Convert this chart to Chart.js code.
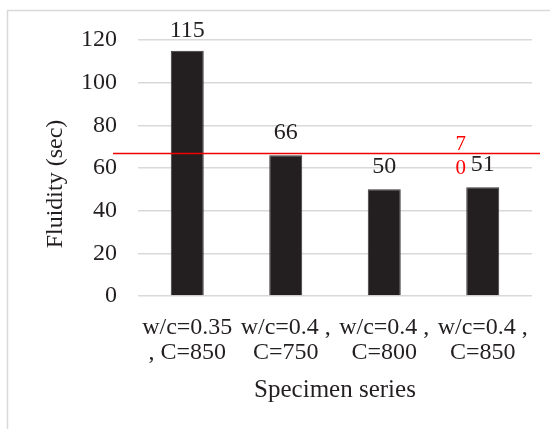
<!DOCTYPE html>
<html>
<head>
<meta charset="utf-8">
<script src="https://cdn.jsdelivr.net/npm/chart.js@4.4.0/dist/chart.umd.min.js"></script>
<style>
  html, body { margin: 0; padding: 0; background: #fff; }
  #wrap { width: 550px; height: 429px; position: relative; }
</style>
</head>
<body>
<div id="wrap"><canvas id="chart" width="550" height="429"></canvas></div>
<script>
// data
const categories = [
    ['w/c=0.35', ', C=850'],
    ['w/c=0.4 ,', 'C=750'],
    ['w/c=0.4 ,', 'C=800'],
    ['w/c=0.4 ,', 'C=850']
];
const fluidity = [115, 66, 50, 51];
const yTicks = [0, 20, 40, 60, 80, 100, 120];
const limitValue = 67;
const limitLabel = '70';

const serif = '"Liberation Serif", "Times New Roman", serif';
const textColor = '#231f20';

// frame, y title, value labels and the red limit line
const extras = {
    id: 'extras',
    beforeDraw(chart) {
        const ctx = chart.ctx;
        ctx.save();
        ctx.strokeStyle = '#d9d9d9';
        ctx.lineWidth = 1.5;
        ctx.beginPath();
        ctx.moveTo(7.5, 429);
        ctx.lineTo(7.5, 10.5);
        ctx.lineTo(550, 10.5);
        ctx.stroke();
        ctx.restore();
    },
    afterDraw(chart) {
        const ctx = chart.ctx;
        const area = chart.chartArea;
        const y = chart.scales.y;
        const bars = chart.getDatasetMeta(0).data;

        ctx.save();
        ctx.font = '24px ' + serif;
        ctx.fillStyle = textColor;

        // y axis title
        ctx.save();
        ctx.translate(56, 184);
        ctx.rotate(-Math.PI / 2);
        ctx.textAlign = 'center';
        ctx.textBaseline = 'middle';
        ctx.fillText('Fluidity (sec)', 0, 0);
        ctx.restore();

        // value labels
        ctx.textAlign = 'center';
        ctx.textBaseline = 'alphabetic';
        bars.forEach((bar, i) => {
            const ly = Math.max(bar.y - 16, area.top - 3);
            ctx.fillText(String(fluidity[i]), bar.x, ly);
        });

        // limit line
        const py = Math.round(y.getPixelForValue(limitValue)) + 0.5;
        ctx.strokeStyle = '#ee0000';
        ctx.lineWidth = 1.5;
        ctx.beginPath();
        ctx.moveTo(area.left - 25, py);
        ctx.lineTo(area.right + 8, py);
        ctx.stroke();

        // wrapped label of the limit line
        const lx = bars[3].x - 22;
        ctx.fillStyle = '#ff0000';
        ctx.font = '21px ' + serif;
        ctx.textBaseline = 'middle';
        ctx.fillText(limitLabel[0], lx, py - 9);
        ctx.fillText(limitLabel[1], lx, py + 15);
        ctx.restore();
    }
};

new Chart(document.getElementById('chart').getContext('2d'), {
    type: 'bar',
    data: {
        labels: categories,
        datasets: [{
            data: fluidity,
            backgroundColor: '#231f20',
            borderColor: '#3a3637',
            borderWidth: 1,
            barPercentage: 0.335,
            categoryPercentage: 1
        }]
    },
    options: {
        responsive: false,
        animation: false,
        layout: { padding: { left: 0, right: 18, top: 40, bottom: 0 } },
        plugins: {
            legend: { display: false },
            tooltip: { enabled: false }
        },
        scales: {
            x: {
                grid: { display: false, drawTicks: false },
                border: { display: false },
                ticks: {
                    color: textColor,
                    padding: 19,
                    maxRotation: 0,
                    autoSkip: false,
                    font: { family: serif, size: 24, lineHeight: '25px' }
                },
                title: {
                    display: true,
                    text: 'Specimen series',
                    color: textColor,
                    padding: { top: 0, bottom: 24 },
                    font: { family: serif, size: 25, lineHeight: 1.2 }
                },
                afterFit(scale) { scale.height = 133; }
            },
            y: {
                min: 0,
                max: 120,
                afterBuildTicks(scale) {
                    scale.ticks = yTicks.map(v => ({ value: v }));
                },
                grid: { color: '#d9d9d9', lineWidth: 1.5, drawTicks: false },
                border: { display: false },
                ticks: {
                    color: textColor,
                    padding: 21,
                    font: { family: serif, size: 24 }
                },
                afterFit(scale) { scale.width = 138; }
            }
        }
    },
    plugins: [extras]
});
</script>
</body>
</html>
